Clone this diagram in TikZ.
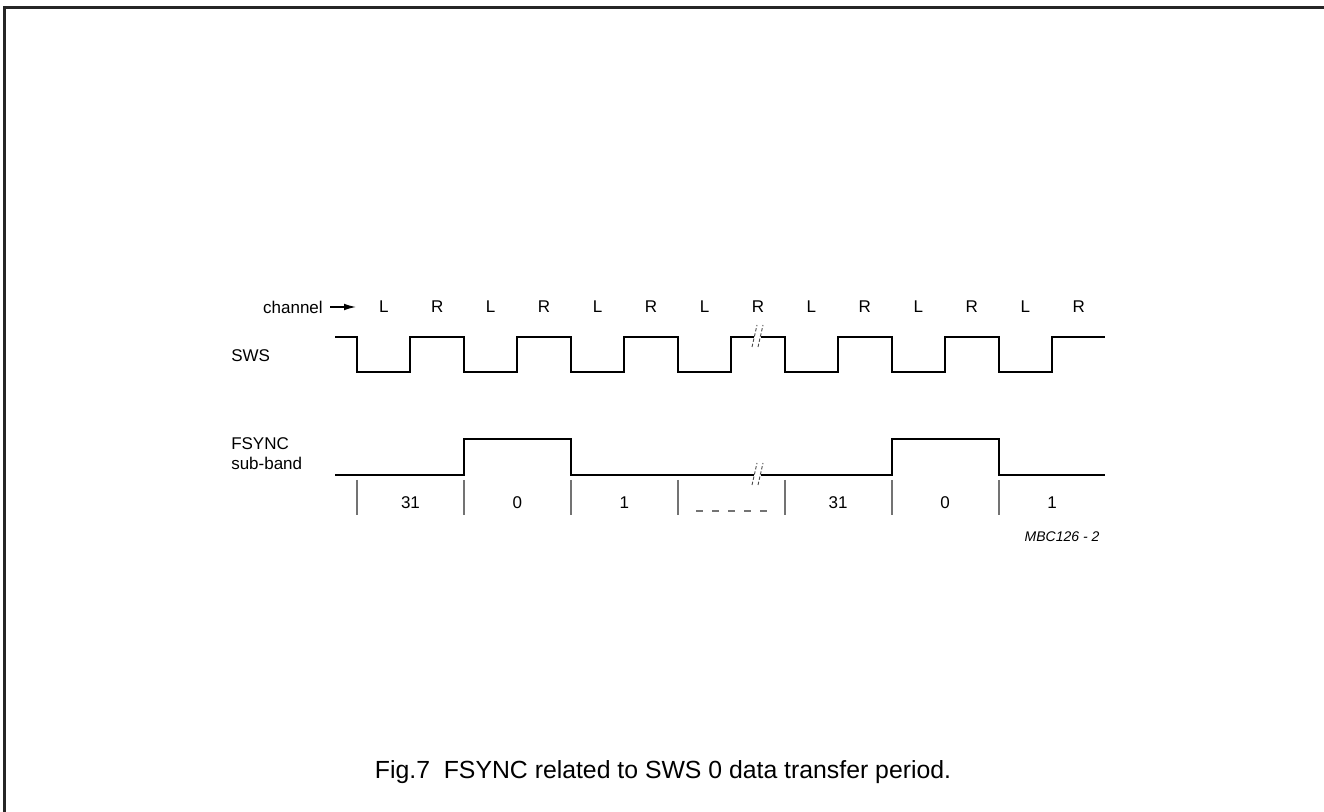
\documentclass[tikz,border=0pt]{standalone}
\usepackage{fontspec}
\setmainfont{Liberation Sans}
\usetikzlibrary{arrows.meta}
\begin{document}
\begin{tikzpicture}[x=0.75pt,y=-0.75pt,line join=miter,
  wave/.style={line width=1.5pt},
  tickline/.style={line width=1pt,black!55},
  lbl/.style={inner sep=0pt,font=\fontsize{12.75}{14.5}\selectfont},
  brk/.style={line width=0.7pt,black!70,dash pattern=on 2.5pt off 1.5pt}]
\useasboundingbox (0,0) rectangle (1324,812);
% frame
\draw[line width=1.6pt,black!85] (4.5,812)--(4.5,7.5)--(1324,7.5);
% labels on the left
\node[lbl,anchor=east] (chan) at (323,307) {channel};
\coordinate (arrA) at (330,307);
\coordinate (arrB) at (356,307);
\draw[line width=0.9pt,-{Latex[length=9pt,width=5pt]}] (arrA)--(arrB);
\node[lbl,anchor=west] (sws) at (231,356) {SWS};
\node[lbl,anchor=west] (fsync) at (231,444) {FSYNC};
\node[lbl,anchor=west] (sub) at (231,463) {sub-band};
% channel letters
\foreach \k/\c in {0/L,1/R,2/L,3/R,4/L,5/R,6/L,7/R,8/L,9/R,10/L,11/R,12/L,13/R}
{
\node[lbl] (ch\k) at ({357+(\k+0.5)*53.46},307) {\c};
}
% SWS
\draw[wave] (335,337)--(357,337)--(357,372)--(410,372)--(410,337)--(464,337)--(464,372)
 --(517,372)--(517,337)--(571,337)--(571,372)--(624,372)--(624,337)--(678,337)--(678,372)
 --(731,372)--(731,337)--(785,337)--(785,372)--(838,372)--(838,337)--(892,337)--(892,372)
 --(945,372)--(945,337)--(999,337)--(999,372)--(1052,372)--(1052,337)--(1105,337);
% FSYNC
\draw[wave] (335,475)--(464,475)--(464,439)--(571,439)--(571,475)--(892,475)--(892,439)
 --(999,439)--(999,475)--(1105,475);
% breaks
\foreach \yy in {337,475}
{
\fill[white] (754,\yy-2)rectangle(761,\yy+2);
\draw[brk] (752,\yy+10)--(757,\yy-12);
\draw[brk] (758,\yy+10)--(763,\yy-12);
}
% ticks and sub-band numbers
\foreach \xx in {357,464,571,678,785,892,999}
{
\draw[tickline] (\xx,480)--(\xx,515);
}
\foreach \k/\n in {1/31,3/0,5/1,9/31,11/0,13/1}
{
\node[lbl] (sb\k) at ({357+\k*53.46},503) {\n};
}
\draw[line width=1.5pt,black!55,dash pattern=on 5.25pt off 6.75pt] (696,511)--(767,511);
\node[lbl,font=\fontsize{10.5}{12.6}\selectfont\itshape] (code) at (1062,537) {MBC126 - 2};
% caption
\node[inner sep=0pt,font=\fontsize{18.6}{22}\selectfont] (cap) at (663,772)
 {Fig.7\ \ FSYNC related to SWS 0 data transfer period.};
\end{tikzpicture}
\end{document}
